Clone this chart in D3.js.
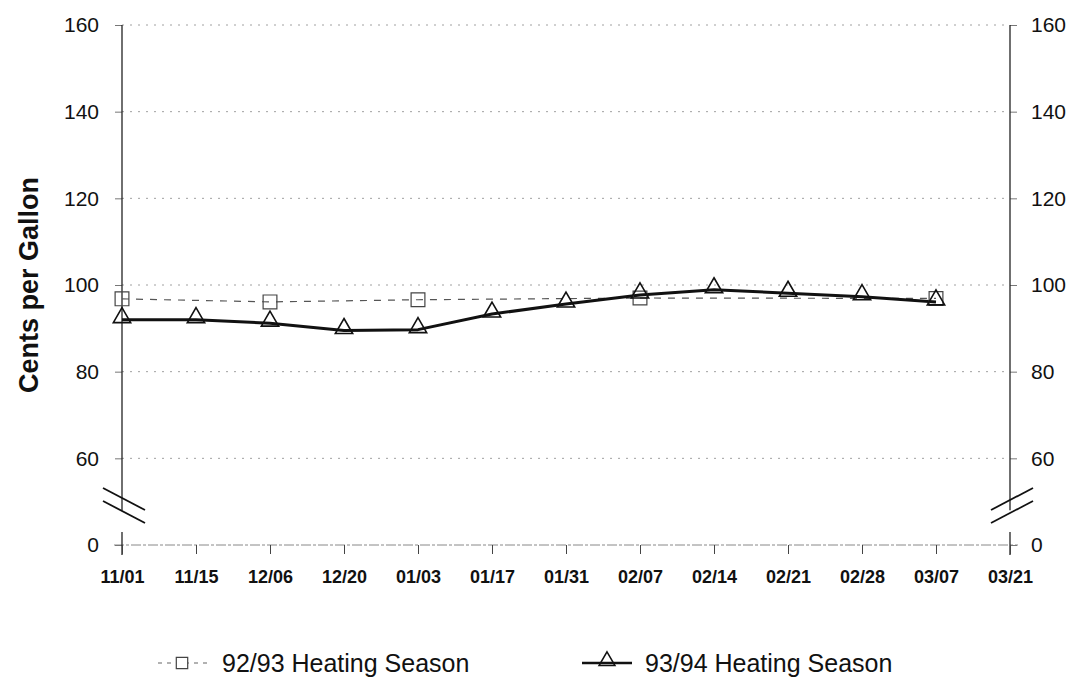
<!DOCTYPE html>
<html>
<head>
<meta charset="utf-8">
<script src="https://cdn.jsdelivr.net/npm/d3@7"></script>
<style>
  body { margin: 0; background: #fff; }
  svg { font-family: "Liberation Sans", Arial, sans-serif; }
</style>
</head>
<body>
<div id="chart"></div>
<script>
// data
const dates = ["11/01", "11/15", "12/06", "12/20", "01/03", "01/17", "01/31",
               "02/07", "02/14", "02/21", "02/28", "03/07", "03/21"];
const dates9293 = ["11/01", "12/06", "01/03", "02/07", "03/07"];
const values9293 = [96.8, 96.1, 96.6, 97.0, 96.9];
const dates9394 = ["11/01", "11/15", "12/06", "12/20", "01/03", "01/17", "01/31",
                   "02/07", "02/14", "02/21", "02/28", "03/07"];
const values9394 = [92.0, 92.0, 91.2, 89.5, 89.7, 93.3, 95.6, 97.7, 98.9, 98.1, 97.3, 96.1];
// the axis is broken: the bottom tick stands for 0
const yTicks = [40, 60, 80, 100, 120, 140, 160];
const yTickLabels = ["0", "60", "80", "100", "120", "140", "160"];

const WIDTH = 1079;
const HEIGHT = 680;
const margin = { top: 25, right: 69, bottom: 135, left: 122 };
const x0 = margin.left, x1 = WIDTH - margin.right;
const y0 = HEIGHT - margin.bottom, y1 = margin.top;

const svg = d3.select("#chart").append("svg")
  .attr("width", WIDTH)
  .attr("height", HEIGHT);

const xScale = d3.scalePoint().domain(dates).range([x0, x1]);
const yScale = d3.scaleLinear().domain([40, 160]).range([y0, y1]);
const label = d => yTickLabels[yTicks.indexOf(d)];

// gridlines
svg.append("g")
  .selectAll("line")
  .data(yTicks.slice(1))
  .enter().append("line")
  .attr("x1", x0).attr("x2", x1)
  .attr("y1", d => yScale(d)).attr("y2", d => yScale(d))
  .attr("stroke", "#a0a0a0")
  .attr("stroke-width", 1)
  .attr("stroke-dasharray", "2,6");

// baseline (0)
svg.append("line")
  .attr("x1", x0 - 8).attr("x2", x1 + 8)
  .attr("y1", y0).attr("y2", y0)
  .attr("stroke", "#888")
  .attr("stroke-dasharray", "10,2,3,2");

// left and right axes
const yAxisL = d3.axisLeft(yScale).tickValues(yTicks).tickFormat(label).tickSize(7).tickPadding(16);
const yAxisR = d3.axisRight(yScale).tickValues(yTicks).tickFormat(label).tickSize(7).tickPadding(14);

[[yAxisL, x0], [yAxisR, x1]].forEach(([ax, xp]) => {
  const g = svg.append("g")
    .attr("transform", `translate(${xp},0)`)
    .call(ax)
    .attr("font-family", "Liberation Sans, Arial, sans-serif")
    .attr("font-size", 21);
  g.select(".domain").remove();
  g.selectAll(".tick line").attr("stroke", "#777");
  g.selectAll(".tick text").attr("fill", "#111");
});

// axis lines with a break between 60 and 0
const breakTop = yScale(48), breakBot = yScale(43);
[x0, x1].forEach(xp => {
  svg.append("line")
    .attr("x1", xp).attr("x2", xp)
    .attr("y1", y1).attr("y2", breakTop)
    .attr("stroke", "#222").attr("stroke-width", 1.3);
  svg.append("line")
    .attr("x1", xp).attr("x2", xp)
    .attr("y1", breakBot).attr("y2", y0 + 10)
    .attr("stroke", "#222").attr("stroke-width", 1.3);
});

// break marks
const yb = yScale(49);
[[x0, 1], [x1, -1]].forEach(([xp, dir]) => {
  [0, 13].forEach(off => {
    svg.append("line")
      .attr("x1", xp - 19).attr("x2", xp + 23)
      .attr("y1", dir > 0 ? yb - 18 + off : yb + 4 + off)
      .attr("y2", dir > 0 ? yb + 4 + off : yb - 18 + off)
      .attr("stroke", "#111").attr("stroke-width", 1.8);
  });
});

// x axis
const xAxis = d3.axisBottom(xScale).tickSize(9).tickPadding(16);
const gx = svg.append("g")
  .attr("transform", `translate(0,${y0})`)
  .call(xAxis)
  .attr("font-family", "Liberation Sans, Arial, sans-serif")
  .attr("font-size", 18)
  .attr("font-weight", "bold");
gx.select(".domain").remove();
gx.selectAll(".tick line").attr("stroke", "#444");
gx.selectAll(".tick text").attr("fill", "#111");

// y title
svg.append("text")
  .attr("transform", `translate(38,${(y0 + y1) / 2}) rotate(-90)`)
  .attr("text-anchor", "middle")
  .attr("font-size", 27)
  .attr("font-weight", "bold")
  .attr("fill", "#111")
  .text("Cents per Gallon");

// series
const s9293 = dates9293.map((d, i) => ({ d, v: values9293[i] }));
const s9394 = dates9394.map((d, i) => ({ d, v: values9394[i] }));
const line = d3.line().x(p => xScale(p.d)).y(p => yScale(p.v));

svg.append("path")
  .datum(s9293)
  .attr("d", line)
  .attr("fill", "none")
  .attr("stroke", "#555")
  .attr("stroke-width", 1.2)
  .attr("stroke-dasharray", "7,7");

svg.append("path")
  .datum(s9394)
  .attr("d", line)
  .attr("fill", "none")
  .attr("stroke", "#111")
  .attr("stroke-width", 3)
  .attr("stroke-linejoin", "round");

const square = d3.symbol().type(d3.symbolSquare).size(190);
const triangle = d3.symbol().type(d3.symbolTriangle).size(130);

svg.append("g").selectAll("path")
  .data(s9293).enter().append("path")
  .attr("d", square)
  .attr("transform", p => `translate(${xScale(p.d)},${yScale(p.v)})`)
  .attr("fill", "none")
  .attr("stroke", "#444")
  .attr("stroke-width", 1.2);

svg.append("g").selectAll("path")
  .data(s9394).enter().append("path")
  .attr("d", triangle)
  .attr("transform", p => `translate(${xScale(p.d)},${yScale(p.v) - 2})`)
  .attr("fill", "none")
  .attr("stroke", "#111")
  .attr("stroke-width", 1.6);

// legend
const ly = 663;
const leg = svg.append("g").attr("font-size", 25).attr("fill", "#111");
leg.append("line")
  .attr("x1", 158).attr("x2", 208).attr("y1", ly).attr("y2", ly)
  .attr("stroke", "#666").attr("stroke-width", 1.1).attr("stroke-dasharray", "4,5");
leg.append("path")
  .attr("d", square.size(130)())
  .attr("transform", `translate(182,${ly})`)
  .attr("fill", "#fff").attr("stroke", "#444").attr("stroke-width", 1.2);
leg.append("text")
  .attr("x", 222).attr("y", ly + 9)
  .text("92/93 Heating Season");

leg.append("line")
  .attr("x1", 582).attr("x2", 632).attr("y1", ly).attr("y2", ly)
  .attr("stroke", "#111").attr("stroke-width", 2.5);
leg.append("path")
  .attr("d", triangle.size(110)())
  .attr("transform", `translate(607,${ly - 2})`)
  .attr("fill", "none").attr("stroke", "#111").attr("stroke-width", 1.5);
leg.append("text")
  .attr("x", 645).attr("y", ly + 9)
  .text("93/94 Heating Season");
</script>
</body>
</html>
